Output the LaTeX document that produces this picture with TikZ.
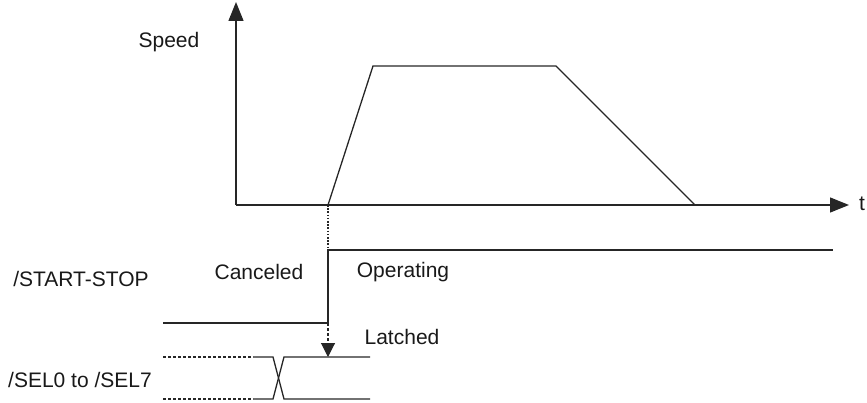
\documentclass[tikz,border=0pt]{standalone}
\usepackage{fontspec}
\setmainfont{Liberation Sans}
\usepackage{tikz}
\usetikzlibrary{arrows.meta}

\begin{document}
\begin{tikzpicture}[
      x=1pt, y=-1pt,
      sig/.style={draw=black!85, line width=1.3pt},
      lbl/.style={font=\fontsize{21}{25}\selectfont, text=black!90, inner sep=0pt},
      bigtip/.style={-{Triangle[length=19pt, width=15pt]}},
      smalltip/.style={-{Triangle[length=14pt, width=14pt]}}
    ]
      \useasboundingbox (0,0) rectangle (867,403);
      % axes
      \coordinate (orig) at (236,205);
      \coordinate (ytop) at (236,2);
      \coordinate (xend) at (849,205);
      \draw[sig, bigtip] (orig) -- (ytop);
      \draw[sig, bigtip] (orig) -- (xend);
      \node[lbl] (speed) at (169,42) {Speed};
      \node[lbl] (t) at (862,204) {t};
      % speed profile
      \coordinate (acc) at (328,205);
      \coordinate (top1) at (373,66);
      \coordinate (top2) at (556,66);
      \coordinate (dec) at (695,205);
      \draw[sig] (acc) -- (top1) -- (top2) -- (dec);
      % /START-STOP
      \coordinate (ssa) at (163,323);
      \coordinate (ssb) at (328,323);
      \coordinate (ssc) at (328,250);
      \coordinate (ssd) at (833,250);
      \draw[sig] (ssa) -- (ssb) -- (ssc) -- (ssd);
      \draw[sig, line width=1.1pt, dash pattern=on 1.6pt off 1.6pt] (acc) -- (ssc);
      \coordinate (latch) at (328,357);
      \draw[sig, line width=1.1pt, dash pattern=on 3pt off 2pt, smalltip] (ssb) -- (latch);
      \node[lbl] (ssname) at (81,279) {/START-STOP};
      \node[lbl] (cancel) at (259,272) {Canceled};
      \node[lbl] (oper) at (403,272) {Operating};
      \node[lbl] (latched) at (402,337) {Latched};
      % /SEL0 to /SEL7
      \coordinate (hia) at (163,357);
      \coordinate (hib) at (253,357);
      \coordinate (hic) at (273,357);
      \coordinate (hid) at (284,357);
      \coordinate (hie) at (370,357);
      \coordinate (loa) at (163,399);
      \coordinate (lob) at (253,399);
      \coordinate (loc) at (273,399);
      \coordinate (lod) at (284,399);
      \coordinate (loe) at (370,399);
      \draw[sig, line width=1.1pt, dash pattern=on 3pt off 2pt] (hia) -- (hib);
      \draw[sig, line width=1.1pt, dash pattern=on 3pt off 2pt] (loa) -- (lob);
      \draw[sig] (hib) -- (hic) -- (lod) -- (loe);
      \draw[sig] (lob) -- (loc) -- (hid) -- (hie);
      \node[lbl] (selname) at (80,380) {/SEL0 to /SEL7};
    \end{tikzpicture}
\end{document}
